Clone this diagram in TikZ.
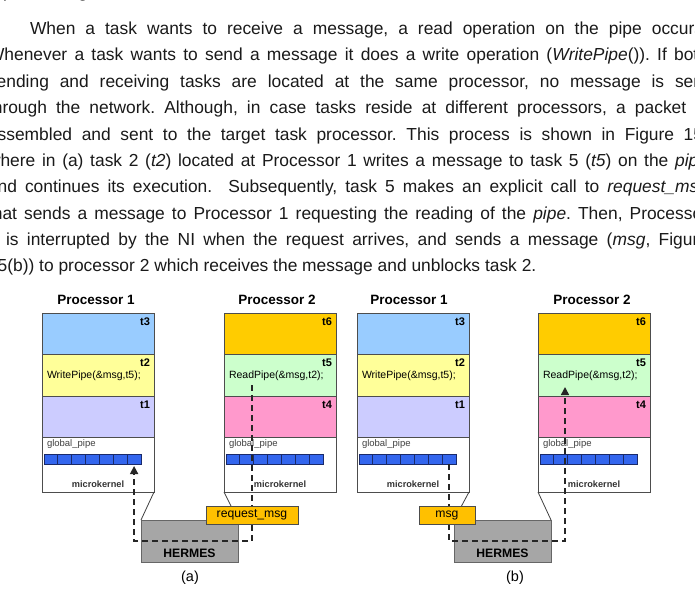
\documentclass[tikz,border=0pt]{standalone}
\usepackage{fontspec}
\setmainfont{Liberation Sans}
\usetikzlibrary{arrows.meta}
\frenchspacing
\definecolor{cTthree}{HTML}{99CCFF}
\definecolor{cTtwo}{HTML}{FFFF99}
\definecolor{cTone}{HTML}{CCCCFF}
\definecolor{cTsix}{HTML}{FFCC00}
\definecolor{cTfive}{HTML}{CCFFCC}
\definecolor{cTfour}{HTML}{FF99CC}
\definecolor{cPipe}{HTML}{3366EE}
\definecolor{cPipeLine}{HTML}{1A2A6A}
\definecolor{cHermes}{HTML}{A6A6A6}
\definecolor{cMsg}{HTML}{FFC000}
\definecolor{cEdge}{HTML}{4D4D4D}
\definecolor{cText}{HTML}{1A1A1A}
\newcommand\jline[5]{\node[ptext, anchor=base west] (#1) at (#2,#3) {\hbox to #4pt{#5}};}
\newcommand\procbox[9]{%
  \node[sect, fill=#3, minimum height=41pt] (#1sa) at (#2,313) {};
  \node[tlabel] at ([xshift=-4pt,yshift=-9pt]#1sa.north east) {#4};
  \node[sect, fill=#5, minimum height=42pt] (#1sb) at (#2,354) {};
  \node[tlabel] at ([xshift=-4pt,yshift=-9pt]#1sb.north east) {#6};
  \node[code] at ([xshift=5pt,yshift=-22pt]#1sb.north west) {#7};
  \node[sect, fill=#8, minimum height=41pt] (#1sc) at (#2,396) {};
  \node[tlabel] at ([xshift=-4pt,yshift=-9pt]#1sc.north east) {#9};
  \node[sect, fill=white, minimum height=55pt] (#1k) at (#2,437) {};
  \node[small] at ([xshift=5pt,yshift=-7pt]#1k.north west) {global\_pipe};
  \foreach \i in {0,...,6} {\node[cell] (#1c\i) at (#2+2+\i*13.86,454) {};}
  \node[mk] at ([yshift=-47pt]#1k.north) {microkernel};
}
\begin{document}
\begin{tikzpicture}[x=1pt,y=-1pt,
  every node/.style={inner sep=0pt, outer sep=0pt},
  ptext/.style={font=\fontsize{17.4}{20}\selectfont, text=cText},
  sect/.style={draw=cEdge, line width=0.8pt, anchor=north west, minimum width=112pt},
  tlabel/.style={anchor=east, font=\fontsize{11}{13}\selectfont\bfseries},
  code/.style={anchor=west, font=\fontsize{10.5}{12}\selectfont},
  small/.style={anchor=west, font=\fontsize{9.5}{11}\selectfont, text=black!75},
  mk/.style={font=\fontsize{9.2}{11}\selectfont\bfseries, text=black!80},
  title/.style={font=\fontsize{13.5}{16}\selectfont\bfseries},
  cell/.style={draw=cPipeLine, fill=cPipe, line width=0.8pt, anchor=north west,
    minimum width=13.86pt, minimum height=10pt},
  hermes/.style={draw=black!60, fill=cHermes, line width=0.8pt, anchor=north west,
    minimum width=97pt, minimum height=42pt},
  hfont/.style={font=\fontsize{12.2}{14}\selectfont\bfseries},
  msgbox/.style={draw=black!70, fill=cMsg, line width=0.8pt, minimum height=18pt,
    font=\fontsize{12.2}{14}\selectfont},
  trap/.style={draw=black!75, line width=0.8pt},
  flow/.style={draw=black!85, line width=1.5pt, dash pattern=on 6pt off 4pt},
  tip/.style={-{Triangle[length=8pt,width=8pt]}},
  captext/.style={font=\fontsize{14.5}{17}\selectfont}
]
\useasboundingbox (0,0) rectangle (695,589);
\clip (0,0) rectangle (695,589);
\fill[white] (0,0) rectangle (695,589);

% ---------- paragraph ----------
\node[ptext, anchor=base west] (l0a) at (3,-2) {p};
\node[ptext, anchor=base west] (l0b) at (78,-2) {g};
\jline{l1}{30}{34.5}{678}{When a task wants to receive a message, a read operation on the pipe occurs.}
\jline{l2}{-12}{60.9}{720}{Whenever a task wants to send a message it does a write operation (\textit{WritePipe}()). If both}
\jline{l3}{-12}{87.3}{720}{sending and receiving tasks are located at the same processor, no message is sent}
\jline{l4}{-12}{113.7}{720}{through the network. Although, in case tasks reside at different processors, a packet is}
\jline{l5}{-12}{140.1}{720}{assembled and sent to the target task processor. This process is shown in Figure 15,}
\jline{l6}{-12}{166.5}{720}{where in (a) task 2 (\textit{t2}) located at Processor 1 writes a message to task 5 (\textit{t5}) on the \textit{pipe}}
\jline{l7}{-12}{192.9}{720}{and continues its execution.\ \ Subsequently, task 5 makes an explicit call to \textit{request\_msg}}
\jline{l8}{-12}{219.3}{720}{that sends a message to Processor 1 requesting the reading of the \textit{pipe}. Then, Processor}
\jline{l9}{-12}{245.7}{720}{1 is interrupted by the NI when the request arrives, and sends a message (\textit{msg}, Figure}
\node[ptext, anchor=base west] (l10) at (-12,271) {15(b)) to processor 2 which receives the message and unblocks task 2.};

% ---------- titles ----------
\node[title] (at1) at (96,300) {Processor 1};
\node[title] (at2) at (277,300) {Processor 2};
\node[title] (bt1) at (409,300) {Processor 1};
\node[title] (bt2) at (592,300) {Processor 2};

% ---------- processors ----------
\procbox{aA}{42}{cTthree}{t3}{cTtwo}{t2}{WritePipe(\&msg,t5);}{cTone}{t1}
\procbox{aB}{224}{cTsix}{t6}{cTfive}{t5}{ReadPipe(\&msg,t2);}{cTfour}{t4}
\procbox{bA}{357}{cTthree}{t3}{cTtwo}{t2}{WritePipe(\&msg,t5);}{cTone}{t1}
\procbox{bB}{538}{cTsix}{t6}{cTfive}{t5}{ReadPipe(\&msg,t2);}{cTfour}{t4}

% ---------- HERMES ----------
\node[hermes] (aH) at (141,520) {};
\node[hfont] (aHt) at ([yshift=-33pt]aH.north) {HERMES};
\node[hermes] (bH) at (454,520) {};
\node[hfont] (bHt) at ([yshift=-33pt]bH.north) {HERMES};
\draw[trap] (aAk.south east) -- (aH.north west);
\draw[trap] (aBk.south west) -- (aH.north east);
\draw[trap] (bAk.south east) -- (bH.north west);
\draw[trap] (bBk.south west) -- (bH.north east);

% ---------- flows ----------
\coordinate (aF0) at (252,385);
\coordinate (aF1) at (252,541);
\coordinate (aF2) at (aAc6.south |- aF1);
\coordinate (aF3) at ([yshift=-2pt]aAc6.south);
\draw[flow, tip] (aF0) -- (aF1) -- (aF2) -- (aF3);

\coordinate (bF0) at (bAc6.south);
\coordinate (bF1) at (bAc6.south |- aF1);
\coordinate (bF2) at (565,541);
\coordinate (bF3) at (565,387);
\draw[flow, tip] (bF0) -- (bF1) -- (bF2) -- (bF3);

% ---------- messages ----------
\node[msgbox, minimum width=92pt] (aR) at (252,515) {request\_msg};
\node[msgbox, minimum width=56pt] (bR) at (447,515) {msg};

% ---------- captions ----------
\node[captext] (capa) at (190,578) {(a)};
\node[captext] (capb) at (515,578) {(b)};
\end{tikzpicture}
\end{document}
